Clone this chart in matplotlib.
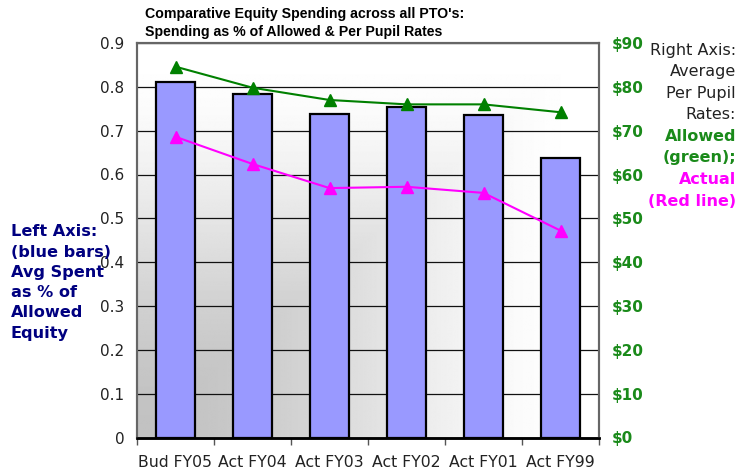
import matplotlib
matplotlib.use("Agg")
import matplotlib.pyplot as plt
import numpy as np

plt.rcParams["font.family"] = ["DejaVu Sans"]

categories = ["Bud FY05", "Act FY04", "Act FY03", "Act FY02", "Act FY01", "Act FY99"]
pct_spent = [0.812, 0.784, 0.738, 0.753, 0.735, 0.637]
allowed_rate = [84.6, 79.8, 77.0, 76.0, 76.0, 74.2]
actual_rate = [68.6, 62.4, 56.9, 57.2, 55.8, 47.2]
left_ticks = [0, 0.1, 0.2, 0.3, 0.4, 0.5, 0.6, 0.7, 0.8, 0.9]
right_ticks = [0, 10, 20, 30, 40, 50, 60, 70, 80, 90]

W, H = 740, 474
fig = plt.figure(figsize=(W / 100, H / 100), dpi=100)
fig.patch.set_facecolor("white")
L, R, T, B = 137, 599, 43, 437.5
ax = fig.add_axes([L / W, (H - B) / H, (R - L) / W, (B - T) / H])
ax2 = ax.twinx()
ax.set_zorder(ax2.get_zorder() - 1)
ax2.patch.set_visible(False)

n = len(categories)
x = np.arange(n)
ax.set_xlim(-0.5, n - 0.5)
ax.set_ylim(0, 0.9)
ax2.set_ylim(0, 90)

# "from corner" gradient background: grey at bottom-left, white at top-right
gx, gy = np.meshgrid(np.linspace(0, 1, 400), np.linspace(0, 1, 400))
t = np.maximum(gx, gy)
grad = 0.76 + 0.24 * (0.5 - 0.5 * np.cos(np.pi * t))
ax.imshow(grad, extent=[-0.5, n - 0.5, 0, 0.9], origin="lower", cmap="gray",
          vmin=0, vmax=1, aspect="auto", zorder=0, interpolation="bilinear")

for yv in left_ticks[1:]:
    ax.axhline(yv, color="#111111", lw=0.9, zorder=1)

ax.bar(x, pct_spent, width=0.5, color="#9999FF", edgecolor="black", linewidth=1.6, zorder=2)

ax2.plot(x, allowed_rate, color="#008000", lw=1.5, marker="^", markersize=8, zorder=3)
ax2.plot(x, actual_rate, color="#FF00FF", lw=1.5, marker="^", markersize=8, zorder=3)

ax.set_yticks(left_ticks)
ax.set_yticklabels([("%g" % v) for v in left_ticks])
ax.tick_params(axis="y", length=0, pad=9, labelsize=11, labelcolor="#222222")
ax.set_xticks(x)
ax.set_xticklabels(categories)
ax.tick_params(axis="x", which="major", length=0, pad=12.5, labelsize=11.3, labelcolor="#222222")
ax.set_xticks(np.arange(-0.5, n, 1.0), minor=True)
ax.tick_params(axis="x", which="minor", length=5, width=1, color="#555555")

ax2.set_yticks(right_ticks)
ax2.set_yticklabels(["$%d" % v for v in right_ticks])
ax2.tick_params(axis="y", length=0, pad=9, labelsize=11, labelcolor="#1a8a1a")
for lab in ax2.get_yticklabels():
    lab.set_fontweight("bold")

for a in (ax, ax2):
    for s in ("left", "right", "top"):
        a.spines[s].set_color("#666666")
        a.spines[s].set_linewidth(1.5)
    a.spines["bottom"].set_color("black")
    a.spines["bottom"].set_linewidth(1.8)

fig.text(145 / W, 1 - 14 / H, "Comparative Equity Spending across all PTO's:",
         ha="left", va="center", fontsize=10.2, fontweight="bold", family="Liberation Sans")
fig.text(145 / W, 1 - 32 / H, "Spending as % of Allowed & Per Pupil Rates",
         ha="left", va="center", fontsize=10.2, fontweight="bold", family="Liberation Sans")

fig.text(11 / W, 1 - 282.5 / H, "Left Axis:\n(blue bars)\nAvg Spent\nas % of\nAllowed\nEquity",
         ha="left", va="center", fontsize=11.6, fontweight="bold", color="#000080", linespacing=1.44)

rx = 736 / W
lines = [("Right Axis:", "#222222", "normal"), ("Average", "#222222", "normal"),
         ("Per Pupil", "#222222", "normal"), ("Rates:", "#222222", "normal"),
         ("Allowed", "#1a8a1a", "bold"), ("(green);", "#1a8a1a", "bold"),
         ("Actual", "#FF00FF", "bold"), ("(Red line)", "#FF00FF", "bold")]
y0 = 50
for i, (tx, c, w) in enumerate(lines):
    fig.text(rx, 1 - (y0 + i * 21.6) / H, tx, ha="right", va="center", fontsize=11.5,
             color=c, fontweight=w)

fig.savefig("out.png", dpi=100)
